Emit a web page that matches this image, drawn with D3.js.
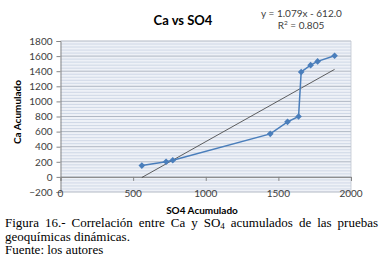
<!DOCTYPE html>
<html>
<head>
<meta charset="utf-8">
<script src="https://cdn.jsdelivr.net/npm/d3@7"></script>
<style>
  body { margin: 0; background: #fff; }
  .wrap { position: relative; width: 386px; height: 264px; overflow: hidden; }
  svg { position: absolute; left: 0; top: 0; }
  .cap { position: absolute; left: 5px; width: 373px; font-family: "Liberation Serif", "Times New Roman", serif; font-size: 13px; color: #000; line-height: 12px; white-space: nowrap; }
  .just { text-align: justify; text-align-last: justify; white-space: normal; }
</style>
</head>
<body>
<div class="wrap">
  <svg id="chart" width="386" height="264"></svg>
  <div class="cap just" style="top:217px">Figura 16.- Correlación entre Ca y SO<sub style="font-size:9px;vertical-align:-2px;line-height:0">4</sub> acumulados de las pruebas</div>
  <div class="cap" style="top:230.5px">geoquímicas dinámicas.</div>
  <div class="cap" style="top:244px">Fuente: los autores</div>
</div>
<script>
  /// data ///
  const so4 = [560, 727, 773, 1444, 1563, 1639, 1657, 1722, 1770, 1887];
  const ca  = [150, 200, 221, 570, 729, 800, 1390, 1480, 1530, 1605];
  const slope = 1.079;
  const intercept = -612.0;
  const r2 = 0.805;
  const xTicks = [0, 500, 1000, 1500, 2000];
  const yTicks = [-200, 0, 200, 400, 600, 800, 1000, 1200, 1400, 1600, 1800];

  /// constants ///
  const font = "Lato, 'Open Sans', sans-serif";
  const blue = "#4a7ebb";
  const plotL = 60.5, plotR = 351, plotT = 41, plotB = 192;

  const svg = d3.select("#chart");

  const x = d3.scaleLinear().domain([0, 2000]).range([plotL, plotR]);
  const y = d3.scaleLinear().domain([-200, 1800]).range([plotB, plotT]);

  // plot background
  svg.append("rect")
    .attr("x", plotL).attr("y", plotT)
    .attr("width", plotR - plotL).attr("height", plotB - plotT)
    .attr("fill", "#eef1f7");

  // minor gridlines
  svg.append("g").selectAll("line")
    .data(d3.range(-200, 1800, 40).filter(v => v % 200 !== 0))
    .join("line")
      .attr("x1", plotL).attr("x2", plotR)
      .attr("y1", d => y(d)).attr("y2", d => y(d))
      .attr("stroke", "#c8d2e2").attr("stroke-width", 0.8);

  // major gridlines
  svg.append("g").selectAll("line")
    .data(yTicks)
    .join("line")
      .attr("x1", plotL).attr("x2", plotR)
      .attr("y1", d => y(d)).attr("y2", d => y(d))
      .attr("stroke", "#a9b1bd").attr("stroke-width", 0.9);

  // right border
  svg.append("line")
    .attr("x1", plotR).attr("x2", plotR).attr("y1", plotT).attr("y2", plotB)
    .attr("stroke", "#c0c6d0").attr("stroke-width", 0.8);

  // y axis
  const yAxis = svg.append("g")
    .attr("transform", `translate(${plotL},0)`)
    .call(d3.axisLeft(y).tickValues(yTicks).tickFormat(d3.format("d")).tickSize(4).tickPadding(4));
  yAxis.select(".domain").attr("stroke", "#868686");
  yAxis.selectAll(".tick line").attr("stroke", "#868686");
  yAxis.selectAll("text")
    .attr("font-family", font).attr("font-size", 10).attr("fill", "#404040");

  // x axis line at y = 0, ticks downward
  const xAxis = svg.append("g")
    .attr("transform", `translate(0,${y(0)})`)
    .call(d3.axisBottom(x).tickValues(xTicks).tickSize(4));
  xAxis.select(".domain").attr("stroke", "#868686");
  xAxis.selectAll(".tick line").attr("stroke", "#868686");
  xAxis.selectAll("text").remove();

  // x tick labels on the bottom row
  svg.append("g").selectAll("text")
    .data(xTicks)
    .join("text")
      .attr("x", d => x(d))
      .attr("y", plotB + 1.5)
      .attr("dy", "0.35em")
      .attr("text-anchor", "middle")
      .attr("font-family", font).attr("font-size", 10).attr("fill", "#404040")
      .text(d => d);

  // trendline
  const xMin = d3.min(so4), xMax = d3.max(so4);
  svg.append("line")
    .attr("x1", x(xMin)).attr("y1", y(slope * xMin + intercept))
    .attr("x2", x(xMax)).attr("y2", y(slope * xMax + intercept))
    .attr("stroke", "#3a3a3a").attr("stroke-width", 0.8);

  // data series
  const pts = so4.map((v, i) => [v, ca[i]]);
  svg.append("path")
    .datum(pts)
    .attr("fill", "none")
    .attr("stroke", blue)
    .attr("stroke-width", 1.5)
    .attr("d", d3.line().x(d => x(d[0])).y(d => y(d[1])));

  svg.append("g").selectAll("path")
    .data(pts)
    .join("path")
      .attr("transform", d => `translate(${x(d[0])},${y(d[1])}) rotate(45)`)
      .attr("d", d3.symbol(d3.symbolSquare, 22))
      .attr("fill", blue);

  // titles
  svg.append("text")
    .attr("x", 183).attr("y", 20).attr("dy", "0.35em")
    .attr("text-anchor", "middle")
    .attr("font-family", font).attr("font-weight", "bold").attr("font-size", 13)
    .attr("fill", "#000")
    .text("Ca vs SO4");

  svg.append("text")
    .attr("transform", "translate(17,112) rotate(-90)")
    .attr("dy", "0.35em")
    .attr("text-anchor", "middle")
    .attr("font-family", font).attr("font-weight", "bold").attr("font-size", 10)
    .attr("fill", "#000")
    .text("Ca Acumulado");

  svg.append("text")
    .attr("x", 202).attr("y", 210).attr("dy", "0.35em")
    .attr("text-anchor", "middle")
    .attr("font-family", font).attr("font-weight", "bold").attr("font-size", 10)
    .attr("fill", "#000")
    .text("SO4 Acumulado");

  // equation label
  const eq = svg.append("text")
    .attr("text-anchor", "middle")
    .attr("font-family", font).attr("font-size", 10).attr("fill", "#404040");
  eq.append("tspan").attr("x", 301.5).attr("y", 17)
    .text(`y = ${slope.toFixed(3)}x - ${Math.abs(intercept).toFixed(1)}`);
  const r = eq.append("tspan").attr("x", 301).attr("y", 29);
  r.append("tspan").text("R");
  r.append("tspan").attr("font-size", 6.5).attr("dy", -4).text("2");
  r.append("tspan").attr("dy", 4).text(` = ${r2.toFixed(3)}`);
</script>
</body>
</html>
